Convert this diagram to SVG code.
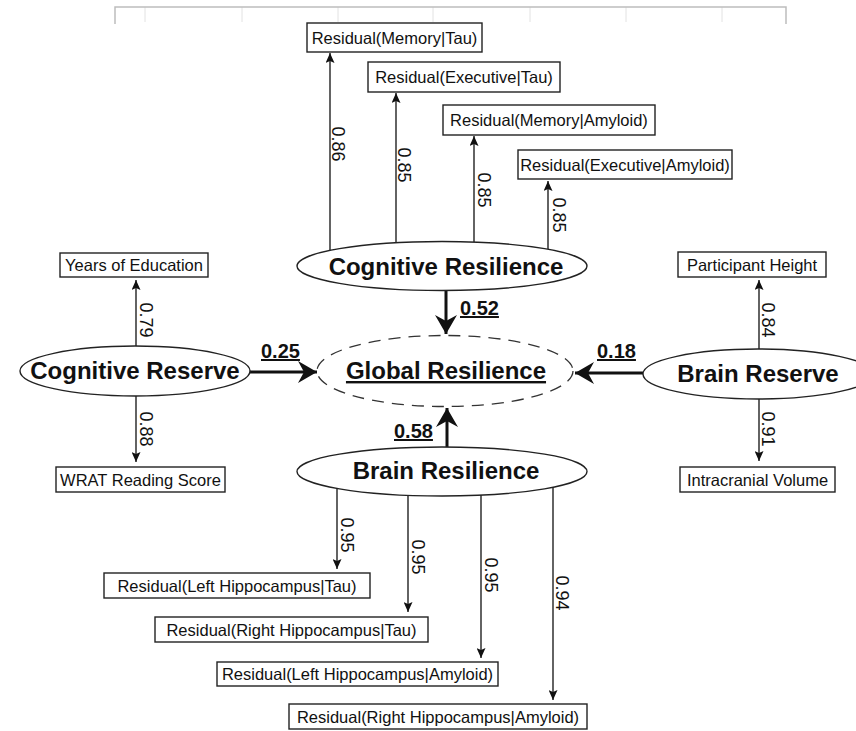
<svg xmlns="http://www.w3.org/2000/svg" width="856" height="731" viewBox="0 0 856 731">
<defs>
<style>
text{font-family:"Liberation Sans",Arial,Helvetica,sans-serif;fill:#111}
.box{fill:#fff;stroke:#222;stroke-width:1.4}
.bt{font-size:16.5px;text-anchor:middle}
.ell{fill:#fff;stroke:#222;stroke-width:1.4}
.et{font-size:24px;font-weight:bold;text-anchor:middle}
.thin{stroke:#222;stroke-width:1.4;fill:none;marker-end:url(#ah)}
.thick{stroke:#111;stroke-width:3;fill:none;marker-end:url(#bh)}
.lab{font-size:18px;text-anchor:middle}
.blab{font-size:20px;font-weight:bold;text-decoration:underline}
.grid{stroke:#e2e2e2;stroke-width:1}
</style>
<marker id="ah" markerUnits="userSpaceOnUse" markerWidth="10" markerHeight="9" refX="10" refY="4.5" orient="auto">
<path d="M0,0 L10,4.5 L0,9 L2,4.5 z" fill="#111"/>
</marker>
<marker id="bh" markerUnits="userSpaceOnUse" markerWidth="20" markerHeight="24" refX="19" refY="12" orient="auto">
<path d="M0,1 L19,12 L0,23 L6,12 z" fill="#111"/>
</marker>
</defs>
<rect width="856" height="731" fill="#fff"/>
<g id="frame">
<line class="grid" x1="145" y1="7" x2="145" y2="22"/>
<line class="grid" x1="242" y1="7" x2="242" y2="22"/>
<line class="grid" x1="338" y1="7" x2="338" y2="22"/>
<line class="grid" x1="433" y1="7" x2="433" y2="22"/>
<line class="grid" x1="530" y1="7" x2="530" y2="22"/>
<line class="grid" x1="626" y1="7" x2="626" y2="22"/>
<line class="grid" x1="722" y1="7" x2="722" y2="22"/>
<path d="M115,24 L115,7 L786,7 L786,24" fill="none" stroke="#bdbdbd" stroke-width="1.5"/>
</g>
<g id="connectors">
<line class="thin" x1="330" y1="250" x2="330" y2="53"/>
<line class="thin" x1="396" y1="243" x2="396" y2="93"/>
<line class="thin" x1="474" y1="242" x2="474" y2="136"/>
<line class="thin" x1="548" y1="249" x2="548" y2="181"/>
<line class="thin" x1="136" y1="346" x2="136" y2="280"/>
<line class="thin" x1="136" y1="396" x2="136" y2="462"/>
<line class="thin" x1="759" y1="349" x2="759" y2="280"/>
<line class="thin" x1="759" y1="399" x2="759" y2="461"/>
<line class="thin" x1="337" y1="488" x2="337" y2="569"/>
<line class="thin" x1="408" y1="495" x2="408" y2="612"/>
<line class="thin" x1="481" y1="495" x2="481" y2="658"/>
<line class="thin" x1="553" y1="487" x2="553" y2="700"/>
<line class="thick" x1="446" y1="291" x2="446" y2="334"/>
<line class="thick" x1="447" y1="447" x2="447" y2="408"/>
<line class="thick" x1="250" y1="372" x2="317" y2="372"/>
<line class="thick" x1="643" y1="373" x2="575" y2="373"/>
<text class="lab" transform="translate(332,144) rotate(90)">0.86</text>
<text class="lab" transform="translate(398,165) rotate(90)">0.85</text>
<text class="lab" transform="translate(478,190) rotate(90)">0.85</text>
<text class="lab" transform="translate(553,215) rotate(90)">0.85</text>
<text class="lab" transform="translate(140,320) rotate(90)">0.79</text>
<text class="lab" transform="translate(140,429) rotate(90)">0.88</text>
<text class="lab" transform="translate(762,320) rotate(90)">0.84</text>
<text class="lab" transform="translate(762,429) rotate(90)">0.91</text>
<text class="lab" transform="translate(341,535) rotate(90)">0.95</text>
<text class="lab" transform="translate(412,557) rotate(90)">0.95</text>
<text class="lab" transform="translate(485,575) rotate(90)">0.95</text>
<text class="lab" transform="translate(556,593) rotate(90)">0.94</text>
<text class="blab" x="460" y="315">0.52</text>
<text class="blab" x="261" y="358">0.25</text>
<text class="blab" x="597" y="358">0.18</text>
<text class="blab" x="394" y="438">0.58</text>
</g>
<g id="global-resilience">
<ellipse cx="445" cy="371" rx="128" ry="35.5" fill="none" stroke="#333" stroke-width="1.3" stroke-dasharray="12 8"/>
<text class="et" x="446" y="379" style="text-decoration:underline">Global Resilience</text>
</g>
<g id="cognitive-resilience">
<ellipse class="ell" cx="442" cy="266" rx="145" ry="24.5"/>
<text class="et" x="446" y="275">Cognitive Resilience</text>
</g>
<g id="brain-resilience">
<ellipse class="ell" cx="442" cy="471.5" rx="145" ry="24.5"/>
<text class="et" x="446" y="479">Brain Resilience</text>
</g>
<g id="cognitive-reserve">
<ellipse class="ell" cx="135" cy="371" rx="115" ry="25"/>
<text class="et" x="135" y="379">Cognitive Reserve</text>
</g>
<g id="brain-reserve">
<ellipse class="ell" cx="758" cy="374" rx="115" ry="25"/>
<text class="et" x="758" y="382">Brain Reserve</text>
</g>
<g id="res-memory-tau">
<rect class="box" x="307" y="23" width="175" height="29"/>
<text class="bt" x="394.5" y="43.5">Residual(Memory|Tau)</text>
</g>
<g id="res-executive-tau">
<rect class="box" x="368" y="62" width="192" height="30"/>
<text class="bt" x="464" y="83">Residual(Executive|Tau)</text>
</g>
<g id="res-memory-amyloid">
<rect class="box" x="443" y="105" width="212" height="30"/>
<text class="bt" x="549" y="126">Residual(Memory|Amyloid)</text>
</g>
<g id="res-executive-amyloid">
<rect class="box" x="518" y="150" width="214" height="29"/>
<text class="bt" x="625" y="170.5">Residual(Executive|Amyloid)</text>
</g>
<g id="years-education">
<rect class="box" x="60" y="253" width="148" height="24"/>
<text class="bt" x="134" y="271">Years of Education</text>
</g>
<g id="wrat">
<rect class="box" x="56" y="467" width="169" height="25"/>
<text class="bt" x="140.5" y="485.5">WRAT Reading Score</text>
</g>
<g id="participant-height">
<rect class="box" x="678" y="252" width="148" height="25"/>
<text class="bt" x="752" y="270.5">Participant Height</text>
</g>
<g id="intracranial-volume">
<rect class="box" x="680" y="467" width="155" height="25"/>
<text class="bt" x="757.5" y="485.5">Intracranial Volume</text>
</g>
<g id="res-lh-tau">
<rect class="box" x="104" y="573" width="266" height="25"/>
<text class="bt" x="237" y="591.5">Residual(Left Hippocampus|Tau)</text>
</g>
<g id="res-rh-tau">
<rect class="box" x="155" y="617" width="273" height="25"/>
<text class="bt" x="291.5" y="635.5">Residual(Right Hippocampus|Tau)</text>
</g>
<g id="res-lh-amyloid">
<rect class="box" x="217" y="662" width="281" height="24"/>
<text class="bt" x="357.5" y="680">Residual(Left Hippocampus|Amyloid)</text>
</g>
<g id="res-rh-amyloid">
<rect class="box" x="289" y="704" width="298" height="25"/>
<text class="bt" x="438" y="722.5">Residual(Right Hippocampus|Amyloid)</text>
</g>
</svg>
